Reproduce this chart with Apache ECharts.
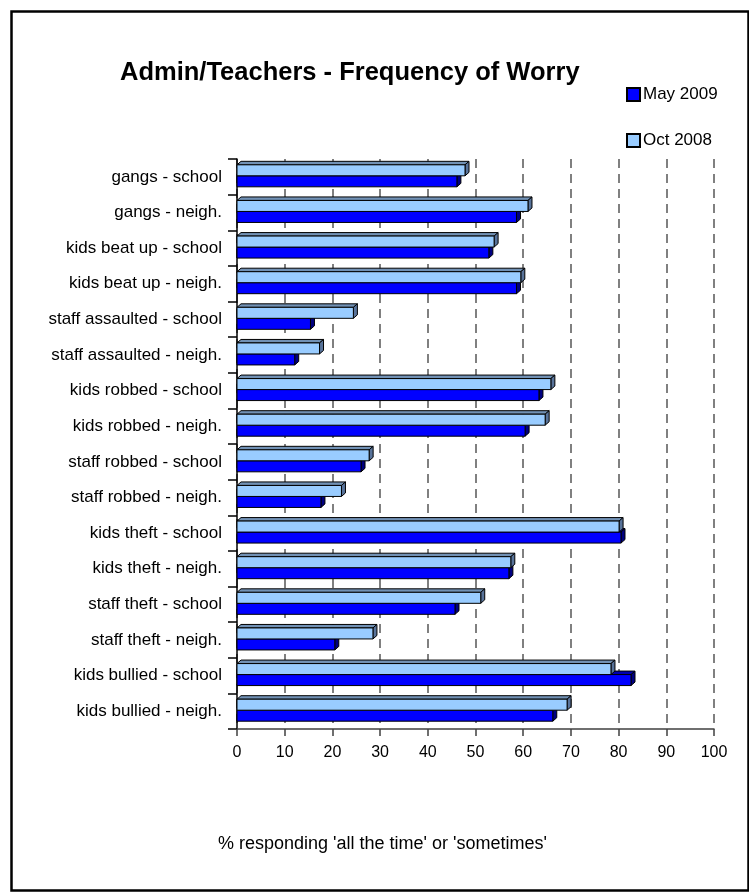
<!DOCTYPE html>
<html>
<head>
<meta charset="utf-8">
<script src="https://cdn.jsdelivr.net/npm/echarts@6/dist/echarts.min.js"></script>
<style>
html,body{margin:0;padding:0;background:#fff;}
#chart{width:749px;height:892px;}
</style>
</head>
<body>
<div id="chart"></div>
<script>
const categories = ['gangs - school','gangs - neigh.','kids beat up - school','kids beat up - neigh.','staff assaulted - school','staff assaulted - neigh.','kids robbed - school','kids robbed - neigh.','staff robbed - school','staff robbed - neigh.','kids theft - school','kids theft - neigh.','staff theft - school','staff theft - neigh.','kids bullied - school','kids bullied - neigh.'];
const oct2008 = [47.8, 61.0, 53.9, 59.5, 24.4, 17.3, 65.8, 64.6, 27.7, 21.9, 80.1, 57.4, 51.1, 28.5, 78.4, 69.2];
const may2009 = [46.1, 58.6, 52.8, 58.6, 15.4, 12.1, 63.3, 60.4, 26.0, 17.6, 80.5, 57.0, 45.7, 20.5, 82.6, 66.2];
const xTicks = [0,10,20,30,40,50,60,70,80,90,100];

const FONT = 'Liberation Sans, Arial, sans-serif';
const chart = echarts.init(document.getElementById('chart'));

function render3D(slot, front, top, side) {
  return function (params, api) {
    const v = api.value(0), cat = api.value(1);
    const p0 = api.coord([0, cat]);
    const p1 = api.coord([v, cat]);
    const h = 11;
    const y0 = p0[1] - 12 + slot * h;
    const x0 = p0[0], x1 = p1[0];
    const dx = 4, dy = -3.5;
    return {
      type: 'group',
      children: [
        {type:'polygon', shape:{points:[[x0,y0],[x0+dx,y0+dy],[x1+dx,y0+dy],[x1,y0]]}, style:{fill:top, stroke:'#000', lineWidth:1}},
        {type:'polygon', shape:{points:[[x1,y0],[x1+dx,y0+dy],[x1+dx,y0+h+dy],[x1,y0+h]]}, style:{fill:side, stroke:'#000', lineWidth:1}},
        {type:'rect', shape:{x:x0, y:y0, width:x1-x0, height:h}, style:{fill:front, stroke:'#000', lineWidth:1}}
      ]
    };
  };
}

const option = {
  backgroundColor: '#fff',
  animation: false,
  title: {
    text: 'Admin/Teachers - Frequency of Worry',
    left: 115, top: 55,
    textStyle: {fontFamily: FONT, fontSize: 25.5, fontWeight: 'bold', color: '#000'}
  },
  legend: {
    data: ['May 2009', 'Oct 2008'],
    orient: 'vertical',
    left: 621, top: 81,
    itemWidth: 13, itemHeight: 13, itemGap: 29,
    icon: 'rect',
    textStyle: {fontFamily: FONT, fontSize: 17, color: '#000', padding: [0,0,0,-2]}
  },
  grid: {left: 237, right: 35, top: 159, bottom: 163},
  xAxis: {
    type: 'value', min: 0, max: 100, interval: 10,
    axisLine: {show: true, lineStyle: {color: '#404040', width: 1.5}},
    axisTick: {show: true, length: 7, lineStyle: {color: '#404040', width: 1.5}},
    axisLabel: {fontFamily: FONT, fontSize: 16, color: '#000', margin: 16,
      formatter: function (v) { return xTicks.indexOf(v) >= 0 ? String(v) : ''; }},
    splitLine: {show: true, lineStyle: {color: '#808080', width: 2, type: [9, 6]}}
  },
  yAxis: {
    type: 'category', data: categories, inverse: true,
    axisLine: {show: true, lineStyle: {color: '#000', width: 1.5}},
    axisTick: {show: true, length: 9, alignWithLabel: false, lineStyle: {color: '#000', width: 1.5}},
    axisLabel: {fontFamily: FONT, fontSize: 17, color: '#000', margin: 15},
    splitLine: {show: false}
  },
  graphic: [
    {type:'rect', left: 9, top: 9, shape:{width: 737, height: 879}, style:{fill:'none', stroke:'#000', lineWidth: 2.5}, silent: true, z: -1},
    {type:'text', left: 218, top: 835, style:{text: "% responding 'all the time' or 'sometimes'", font: '18px ' + FONT, fill: '#000'}}
  ],
  series: [
    {
      name: 'May 2009', type: 'custom',
      itemStyle: {color: '#0000FF', borderColor: '#000', borderWidth: 1},
      encode: {x: 0, y: 1},
      data: may2009.map((v, i) => [v, i]),
      renderItem: render3D(1, '#0000FF', '#0000B0', '#000080')
    },
    {
      name: 'Oct 2008', type: 'custom',
      itemStyle: {color: '#99CCFF', borderColor: '#000', borderWidth: 1},
      encode: {x: 0, y: 1},
      data: oct2008.map((v, i) => [v, i]),
      renderItem: render3D(0, '#99CCFF', '#7191B5', '#58739A')
    }
  ]
};
chart.setOption(option);
</script>
</body>
</html>
